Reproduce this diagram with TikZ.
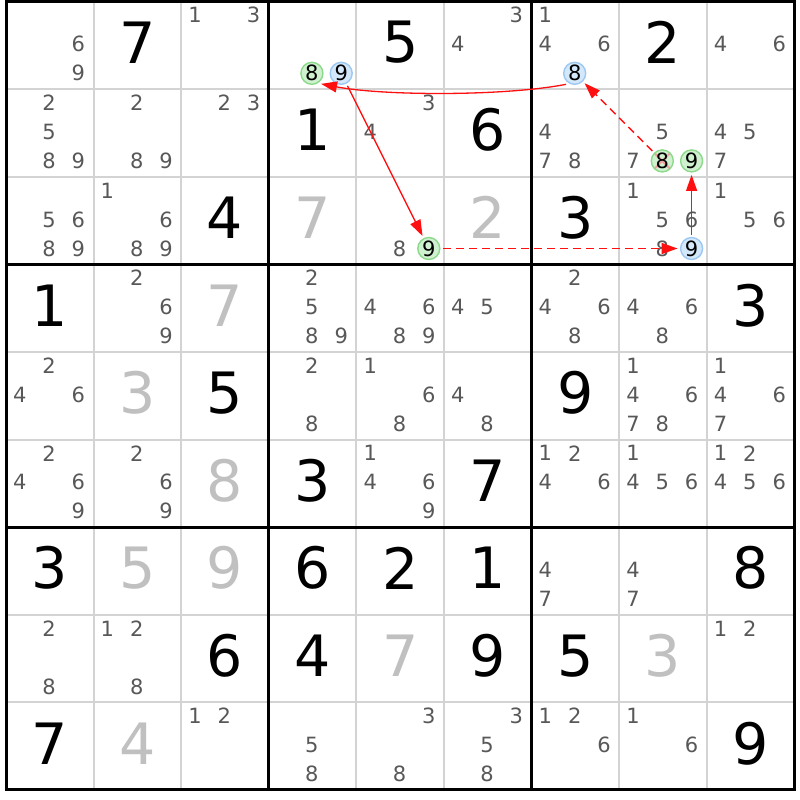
\documentclass[tikz,border=0pt]{standalone}
\usepackage{fontspec}
\setmainfont{DejaVu Sans}
\usetikzlibrary{arrows.meta}
\definecolor{candgray}{HTML}{585858}
\definecolor{solvgray}{HTML}{C0C0C0}
\definecolor{gridgray}{HTML}{D3D3D3}
\definecolor{gfill}{HTML}{CFF1CF}
\definecolor{gline}{HTML}{8CD98C}
\definecolor{bfill}{HTML}{D4E8FB}
\definecolor{bline}{HTML}{9CC8F2}
\definecolor{xred}{HTML}{F2A0A0}
\definecolor{arrred}{HTML}{FF1010}
\newcommand\candfont{\fontsize{21}{21}\selectfont}
\newcommand\bigfont{\fontsize{57}{57}\selectfont}
% given / solved big digits: row col digit
\newcommand\givn[3]{%
  \pgfmathsetmacro\px{6+(#2-1)*87.6+43.8}%
  \pgfmathsetmacro\py{1.5+(#1-1)*87.6+41}%
  \node[givd] (v#1#2) at (\px,\py) {#3};}
\newcommand\solv[3]{%
  \pgfmathsetmacro\px{6+(#2-1)*87.6+43.8}%
  \pgfmathsetmacro\py{1.5+(#1-1)*87.6+41}%
  \node[solvd] (v#1#2) at (\px,\py) {#3};}
% candidates: row col list
\newcommand\cnds[3]{%
  \foreach \d in {#3}{%
    \pgfmathsetmacro\px{6+(#2-1)*87.6+13.8+29.3*mod(\d-1,3)}%
    \pgfmathsetmacro\py{1.5+(#1-1)*87.6+13.8+29*floor((\d-1)/3)}%
    \node[cand] (k#1#2\d) at (\px,\py) {\d};}}
% circled candidate: row col digit style
\newcommand\ccnd[4]{%
  \pgfmathsetmacro\px{6+(#2-1)*87.6+13.8+29.3*mod(#3-1,3)}%
  \pgfmathsetmacro\py{1.5+(#1-1)*87.6+13.8+29*floor((#3-1)/3)}%
  \node[#4] (k#1#2#3) at (\px,\py) {#3};}
\begin{document}
\begin{tikzpicture}[x=1pt,y=-1pt,
  cand/.style={font=\candfont,text=candgray,inner sep=0pt},
  givd/.style={font=\bigfont,text=black,inner sep=0pt},
  solvd/.style={font=\bigfont,text=solvgray,inner sep=0pt},
  circ/.style={circle,minimum size=22pt,inner sep=0pt,line width=1.4pt,outer sep=3pt,font=\candfont,text=black},
  gc/.style={circ,draw=gline,fill=gfill},
  bc/.style={circ,draw=bline,fill=bfill},
  xed/.style={path picture={\draw[xred,line width=2pt]
     (path picture bounding box.north west) -- (path picture bounding box.south east)
     (path picture bounding box.north east) -- (path picture bounding box.south west);}},
  thingrid/.style={draw=gridgray,line width=2pt},
  thickgrid/.style={draw=black,line width=3pt},
  arr/.style={draw=arrred,line width=1.3pt,-{Triangle[length=16pt,width=11pt]}},
  dasharr/.style={arr,dash pattern=on 8pt off 5pt}]
\useasboundingbox (0,0) rectangle (800,800);
\fill[white] (0,0) rectangle (800,800);
% grid
\foreach \i in {1,2,4,5,7,8}{
  \draw[thingrid] ({6+\i*87.6},1.5) -- ({6+\i*87.6},789.9);
  \draw[thingrid] (6,{1.5+\i*87.6}) -- (794.4,{1.5+\i*87.6});
}
\foreach \i in {3,6}{
  \draw[thickgrid] ({6+\i*87.6},1.5) -- ({6+\i*87.6},789.9);
  \draw[thickgrid] (6,{1.5+\i*87.6}) -- (794.4,{1.5+\i*87.6});
}
\draw[thickgrid,line cap=rect] (6,1.5) rectangle (794.4,789.9);
% givens (black) and solved (gray)
\givn{1}{2}{7}\givn{1}{5}{5}\givn{1}{8}{2}
\givn{2}{4}{1}\givn{2}{6}{6}
\givn{3}{3}{4}\solv{3}{4}{7}\solv{3}{6}{2}\givn{3}{7}{3}
\givn{4}{1}{1}\solv{4}{3}{7}\givn{4}{9}{3}
\solv{5}{2}{3}\givn{5}{3}{5}\givn{5}{7}{9}
\solv{6}{3}{8}\givn{6}{4}{3}\givn{6}{6}{7}
\givn{7}{1}{3}\solv{7}{2}{5}\solv{7}{3}{9}\givn{7}{4}{6}\givn{7}{5}{2}\givn{7}{6}{1}\givn{7}{9}{8}
\givn{8}{3}{6}\givn{8}{4}{4}\solv{8}{5}{7}\givn{8}{6}{9}\givn{8}{7}{5}\solv{8}{8}{3}
\givn{9}{1}{7}\solv{9}{2}{4}\givn{9}{9}{9}
% candidates
\cnds{1}{1}{6,9}\cnds{1}{3}{1,3}\cnds{1}{6}{3,4}\cnds{1}{7}{1,4,6}\cnds{1}{9}{4,6}
\cnds{2}{1}{2,5,8,9}\cnds{2}{2}{2,8,9}\cnds{2}{3}{2,3}\cnds{2}{5}{3,4}\cnds{2}{7}{4,7,8}\cnds{2}{8}{5,7}\cnds{2}{9}{4,5,7}
\cnds{3}{1}{5,6,8,9}\cnds{3}{2}{1,6,8,9}\cnds{3}{5}{8}\cnds{3}{8}{1,5,6,8}\cnds{3}{9}{1,5,6}
\cnds{4}{2}{2,6,9}\cnds{4}{4}{2,5,8,9}\cnds{4}{5}{4,6,8,9}\cnds{4}{6}{4,5}\cnds{4}{7}{2,4,6,8}\cnds{4}{8}{4,6,8}
\cnds{5}{1}{2,4,6}\cnds{5}{4}{2,8}\cnds{5}{5}{1,6,8}\cnds{5}{6}{4,8}\cnds{5}{8}{1,4,6,7,8}\cnds{5}{9}{1,4,6,7}
\cnds{6}{1}{2,4,6,9}\cnds{6}{2}{2,6,9}\cnds{6}{5}{1,4,6,9}\cnds{6}{7}{1,2,4,6}\cnds{6}{8}{1,4,5,6}\cnds{6}{9}{1,2,4,5,6}
\cnds{7}{7}{4,7}\cnds{7}{8}{4,7}
\cnds{8}{1}{2,8}\cnds{8}{2}{1,2,8}\cnds{8}{9}{1,2}
\cnds{9}{3}{1,2}\cnds{9}{4}{5,8}\cnds{9}{5}{3,8}\cnds{9}{6}{3,5,8}\cnds{9}{7}{1,2,6}\cnds{9}{8}{1,6}
% circled candidates
\ccnd{1}{4}{8}{gc}\ccnd{1}{4}{9}{bc}
\ccnd{1}{7}{8}{bc}
\ccnd{2}{8}{8}{gc,xed}\ccnd{2}{8}{9}{gc}
\ccnd{3}{5}{9}{gc}
\ccnd{3}{8}{9}{bc}
% chain arrows
\draw[arr] (k178.232) .. controls +(-62,12) and +(62,12) .. (k148.311);
\draw[arr] (k149) -- (k359);
\draw[dasharr] (k359) -- (k389);
\draw[arr] (k389) -- (k289);
\draw[dasharr] (k288) -- (k178);
\end{tikzpicture}
\end{document}
